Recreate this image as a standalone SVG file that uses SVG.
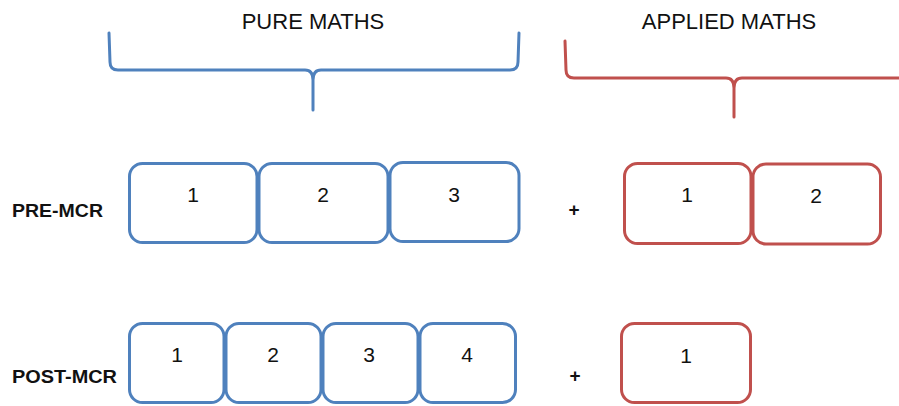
<svg xmlns="http://www.w3.org/2000/svg" width="899" height="406" viewBox="0 0 899 406">
<style>
  .blue { fill: #ffffff; stroke: #4f81bd; stroke-width: 3; }
  .red { fill: #ffffff; stroke: #c0504d; stroke-width: 3; }
  .brace-b { fill: none; stroke: #4f81bd; stroke-width: 3; stroke-linecap: round; stroke-linejoin: round; }
  .brace-r { fill: none; stroke: #c0504d; stroke-width: 3; stroke-linecap: round; stroke-linejoin: round; }
  .head { font-family: "Liberation Sans", Arial, sans-serif; font-size: 22px; fill: #111; text-anchor: middle; }
  .num { font-family: "Liberation Sans", Arial, sans-serif; font-size: 21px; fill: #111; text-anchor: middle; }
  .lbl { font-family: "Liberation Sans", Arial, sans-serif; font-size: 18px; font-weight: bold; fill: #111; }
  .plus { font-family: "Liberation Sans", Arial, sans-serif; font-size: 19px; font-weight: bold; fill: #111; text-anchor: middle; }
</style>
<rect width="899" height="406" fill="#ffffff"/>

<g id="pure-heading">
  <text class="head" x="313" y="29">PURE MATHS</text>
  <path class="brace-b" d="M109,33 L110,62 Q110,70 118,70 L305,70 Q313,70 313,80 L313,110 M313,80 Q313,70 321,70 L510,70 Q518,70 518,62 L519,33"/>
</g>
<g id="applied-heading">
  <text class="head" x="729" y="29">APPLIED MATHS</text>
  <path class="brace-r" d="M565,41 L566,70 Q566,78 574,78 L726,78 Q734,78 734,88 L734,117 M734,88 Q734,78 742,78 L900,78"/>
</g>

<g id="pre-label"><text class="lbl" x="12" y="217" textLength="91" lengthAdjust="spacingAndGlyphs">PRE-MCR</text></g>
<g id="post-label"><text class="lbl" x="12" y="383" textLength="105" lengthAdjust="spacingAndGlyphs">POST-MCR</text></g>

<g id="pre-pure-1"><rect class="blue" x="129.5" y="163.5" width="127.5" height="79" rx="13"/><text class="num" x="193" y="202">1</text></g>
<g id="pre-pure-2"><rect class="blue" x="259" y="163.5" width="129" height="79" rx="13"/><text class="num" x="323" y="202">2</text></g>
<g id="pre-pure-3"><rect class="blue" x="390" y="162.5" width="129" height="79" rx="13"/><text class="num" x="454" y="202">3</text></g>

<g id="pre-plus"><text class="plus" x="574" y="216">+</text></g>

<g id="pre-applied-1"><rect class="red" x="624.5" y="163.5" width="126.5" height="80" rx="13"/><text class="num" x="687" y="202">1</text></g>
<g id="pre-applied-2"><rect class="red" x="753" y="164" width="127.5" height="80" rx="13"/><text class="num" x="816" y="203">2</text></g>

<g id="post-pure-1"><rect class="blue" x="129.5" y="323.5" width="94.5" height="79" rx="13"/><text class="num" x="177" y="362">1</text></g>
<g id="post-pure-2"><rect class="blue" x="226" y="323.5" width="95" height="79" rx="13"/><text class="num" x="273" y="362">2</text></g>
<g id="post-pure-3"><rect class="blue" x="323" y="323.5" width="95" height="79" rx="13"/><text class="num" x="369" y="362">3</text></g>
<g id="post-pure-4"><rect class="blue" x="420" y="323.5" width="95.5" height="79" rx="13"/><text class="num" x="467" y="362">4</text></g>

<g id="post-plus"><text class="plus" x="575" y="382">+</text></g>

<g id="post-applied-1"><rect class="red" x="621.5" y="323.5" width="129" height="79" rx="13"/><text class="num" x="686" y="363">1</text></g>
</svg>
